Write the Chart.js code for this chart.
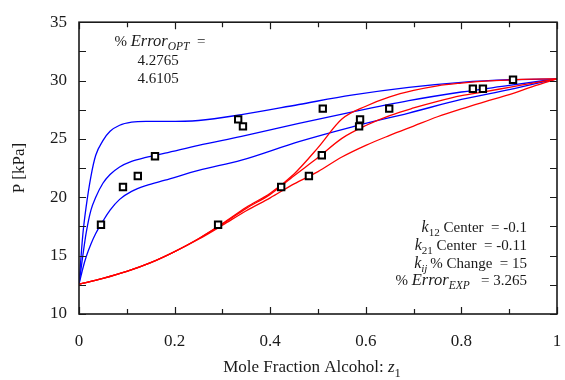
<!DOCTYPE html>
<html>
<head>
<meta charset="utf-8">
<script src="https://cdn.jsdelivr.net/npm/chart.js@4/dist/chart.umd.min.js"></script>
<style>
  html, body { margin: 0; padding: 0; background: #fff; }
</style>
</head>
<body>
<canvas id="pxy" width="565" height="380"></canvas>
<script>
// === DATA ===
// bubble-point curves (blue), shared z1 grid
const bubbleZ = [0, 0.008, 0.015, 0.025, 0.035, 0.05, 0.065, 0.085, 0.11, 0.14, 0.18, 0.25, 0.34, 0.46, 0.57, 0.69, 0.8, 0.9, 1];
const bubbleHighP = [12.55, 16.8, 19.2, 21.8, 23.6, 24.85, 25.65, 26.17, 26.43, 26.5, 26.5, 26.58, 27.08, 27.95, 28.75, 29.42, 29.85, 30.07, 30.15];
const bubbleMidP = [12.55, 15.0, 16.95, 18.9, 20.0, 21.2, 21.95, 22.6, 23.08, 23.42, 23.78, 24.45, 25.22, 26.33, 27.3, 28.28, 29.02, 29.58, 30.15];
const bubbleLowP = [12.55, 13.9, 14.9, 16.0, 16.9, 17.95, 18.9, 19.82, 20.5, 21.0, 21.46, 22.3, 23.18, 24.77, 26.02, 27.22, 28.38, 29.22, 30.15];

// dew-point curves (red)
const dewZ = [0, 0.05, 0.1, 0.15, 0.2, 0.25, 0.3, 0.35, 0.4, 0.45, 0.5, 0.55, 0.6, 0.65, 0.7, 0.75, 0.8, 0.85, 0.9, 0.95, 1];
const dewHighP = [12.55, 13.05, 13.65, 14.4, 15.35, 16.45, 17.75, 19.15, 20.35, 22.0, 24.25, 26.7, 27.8, 28.6, 29.15, 29.55, 29.78, 29.95, 30.05, 30.12, 30.15];
const dewMidP = [12.55, 13.05, 13.65, 14.4, 15.35, 16.45, 17.7, 19.05, 20.25, 21.85, 23.4, 25.05, 26.15, 27.0, 27.65, 28.22, 28.7, 29.05, 29.42, 29.78, 30.15];
const dewLowP = [12.55, 13.05, 13.65, 14.4, 15.33, 16.4, 17.6, 18.85, 19.95, 21.15, 22.2, 23.45, 24.45, 25.3, 26.1, 26.9, 27.58, 28.2, 28.8, 29.5, 30.15];

// measured points
const expZ = [0.046, 0.092, 0.123, 0.159, 0.291, 0.333, 0.343, 0.423, 0.481, 0.508, 0.510, 0.588, 0.586, 0.649, 0.824, 0.845, 0.908];
const expP = [17.65, 20.88, 21.82, 23.52, 17.65, 26.67, 26.07, 20.88, 21.82, 23.6, 27.6, 26.67, 26.07, 27.6, 29.3, 29.3, 30.07];

// ticks
const xTickMarks = [0, 0.1, 0.2, 0.3, 0.4, 0.5, 0.6, 0.7, 0.8, 0.9, 1];
const yTickMarks = [10, 12.5, 15, 17.5, 20, 22.5, 25, 27.5, 30, 32.5, 35];
const xTickLabels = [0, 0.2, 0.4, 0.6, 0.8, 1];

// fit summary
const optErrors = ['4.2765', '4.6105'];
const k12Center = '-0.1';
const k21Center = '-0.11';
const kijChange = '15';
const expError = '3.265';

const SERIF = '"Liberation Serif", "DejaVu Serif", serif';
const INK = '#1a1a1a';

// === HELPERS ===
function toPoints(xs, ys) {
  return xs.map((x, i) => ({ x, y: ys[i] }));
}

function curve(xs, ys, color, order) {
  return {
    data: toPoints(xs, ys),
    showLine: true,
    borderColor: color,
    borderWidth: 1.3,
    pointRadius: 0,
    cubicInterpolationMode: 'monotone',
    order
  };
}

// text with italic pieces and subscripts, e.g. k_12
function drawRich(ctx, parts, x, baseline, size, align) {
  const fontOf = p => {
    const s = p.size || (p.sub ? size * 0.74 : size);
    return `${p.it ? 'italic ' : ''}${s}px ${SERIF}`;
  };
  let total = 0;
  parts.forEach(p => {
    ctx.font = fontOf(p);
    p.w = ctx.measureText(p.t).width;
    total += p.w;
  });
  let cx = align === 'right' ? x - total : align === 'center' ? x - total / 2 : x;
  parts.forEach(p => {
    ctx.font = fontOf(p);
    ctx.fillText(p.t, cx, baseline + (p.sub ? size * 0.28 : 0));
    cx += p.w;
  });
}

// === PLUGINS ===
const frameAndTicks = {
  id: 'frameAndTicks',
  afterDatasetsDraw(chart) {
    const { ctx, chartArea: a, scales: { x, y } } = chart;
    ctx.save();
    ctx.strokeStyle = INK;
    ctx.lineWidth = 1.6;
    ctx.strokeRect(a.left, a.top, a.right - a.left, a.bottom - a.top);

    ctx.lineWidth = 1.2;
    ctx.beginPath();
    xTickMarks.forEach((v, i) => {
      const px = Math.round(x.getPixelForValue(v)) + 0.5;
      const len = i % 2 === 0 ? 7 : 5;
      ctx.moveTo(px, a.bottom); ctx.lineTo(px, a.bottom - len);
      ctx.moveTo(px, a.top); ctx.lineTo(px, a.top + len);
    });
    yTickMarks.forEach(v => {
      const py = Math.round(y.getPixelForValue(v)) + 0.5;
      ctx.moveTo(a.left, py); ctx.lineTo(a.left + 7, py);
      ctx.moveTo(a.right, py); ctx.lineTo(a.right - 7, py);
    });
    ctx.stroke();

    // x tick labels
    ctx.fillStyle = INK;
    ctx.font = `17px ${SERIF}`;
    ctx.textAlign = 'center';
    ctx.textBaseline = 'alphabetic';
    xTickLabels.forEach(v => ctx.fillText(String(v), x.getPixelForValue(v), a.bottom + 32));
    ctx.restore();
  }
};

const annotations = {
  id: 'annotations',
  afterDraw(chart) {
    const { ctx, chartArea: a } = chart;
    ctx.save();
    ctx.fillStyle = INK;
    ctx.textBaseline = 'alphabetic';

    // optimised error, top left
    drawRich(ctx, [{ t: '% ' }, { t: 'Error', it: true, size: 16.5 }, { t: 'OPT', it: true, sub: true, size: 11.5 }, { t: '  =' }], 160, 46, 15, 'center');
    optErrors.forEach((e, i) => drawRich(ctx, [{ t: e }], 158, 64.5 + i * 18, 15, 'center'));

    // parameter summary, bottom right
    const rx = 527;
    drawRich(ctx, [{ t: 'k', it: true, size: 16 }, { t: '12', sub: true }, { t: ' Center  = ' + k12Center }], rx, 232, 15, 'right');
    drawRich(ctx, [{ t: 'k', it: true, size: 16 }, { t: '21', sub: true }, { t: ' Center  = ' + k21Center }], rx, 250, 15, 'right');
    drawRich(ctx, [{ t: 'k', it: true, size: 16 }, { t: 'ij ', it: true, sub: true }, { t: '% Change  = ' + kijChange }], rx, 267.5, 15, 'right');
    drawRich(ctx, [{ t: '% ' }, { t: 'Error', it: true, size: 16.5 }, { t: 'EXP', it: true, sub: true, size: 11.5 }, { t: '   = ' + expError }], rx, 285, 15, 'right');

    // axis titles
    drawRich(ctx, [{ t: 'Mole Fraction Alcohol: ' }, { t: 'z', it: true, size: 17 }, { t: '1', sub: true }], 312, 372, 17, 'center');
    ctx.translate(20, (a.top + a.bottom) / 2);
    ctx.rotate(-Math.PI / 2);
    ctx.font = `17px ${SERIF}`;
    ctx.textAlign = 'center';
    ctx.textBaseline = 'middle';
    ctx.fillText('P [kPa]', 0, 0);
    ctx.restore();
  }
};

// === CHART ===
new Chart(document.getElementById('pxy'), {
  type: 'scatter',
  data: {
    datasets: [
      {
        data: toPoints(expZ, expP),
        showLine: false,
        pointStyle: 'rect',
        pointRadius: 4.5,
        pointBorderWidth: 2,
        pointBorderColor: '#000',
        pointBackgroundColor: '#fff',
        order: 0
      },
      curve(dewZ, dewHighP, '#ff0000', 1),
      curve(dewZ, dewMidP, '#ff0000', 1),
      curve(dewZ, dewLowP, '#ff0000', 1),
      curve(bubbleZ, bubbleHighP, '#0000ff', 2),
      curve(bubbleZ, bubbleMidP, '#0000ff', 2),
      curve(bubbleZ, bubbleLowP, '#0000ff', 2)
    ]
  },
  options: {
    responsive: false,
    animation: false,
    devicePixelRatio: 1,
    layout: { padding: { top: 20, right: 8, left: 0, bottom: 0 } },
    plugins: { legend: { display: false }, tooltip: { enabled: false } },
    scales: {
      x: {
        type: 'linear',
        min: 0,
        max: 1,
        ticks: { display: false, stepSize: 0.2 },
        grid: { display: false, drawTicks: false },
        border: { display: false },
        afterFit: s => { s.height = 66; }
      },
      y: {
        min: 10,
        max: 35,
        ticks: { stepSize: 5, font: { family: SERIF, size: 17 }, color: INK, padding: 12 },
        grid: { display: false, drawTicks: false },
        border: { display: false },
        afterFit: s => { s.width = 79; }
      }
    }
  },
  plugins: [frameAndTicks, annotations]
});
</script>
</body>
</html>
